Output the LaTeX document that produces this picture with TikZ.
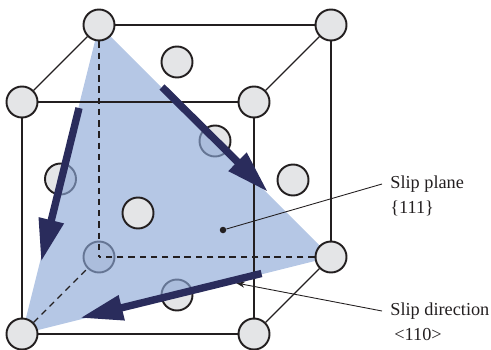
\documentclass[tikz,border=0pt]{standalone}
\usepackage{fontspec}
\setmainfont{Liberation Serif}
\usepackage{xcolor}
\usetikzlibrary{arrows.meta}

\definecolor{atomgrey}{HTML}{E4E5E7}
\definecolor{inkdark}{HTML}{231F20}
\definecolor{planeblue}{RGB}{139,167,214}
\definecolor{slipnavy}{HTML}{2A2C5C}

\begin{document}
\begin{tikzpicture}[
  atom/.style={circle, draw=inkdark, fill=atomgrey, line width=1.1pt,
               inner sep=0pt, minimum size=0.62cm},
  edge/.style={draw=inkdark, line width=0.7pt},
  hidden/.style={draw=inkdark, line width=0.7pt, dash pattern=on 3.6pt off 2.8pt},
  slip/.style={-{Triangle[length=8.6mm, width=4.8mm]}, draw=slipnavy, line width=4.2pt},
  lbl/.style={font=\fontsize{10.4}{14}\selectfont, text=inkdark, align=left,
              inner sep=0pt, anchor=west},
  lead/.style={draw=inkdark, line width=0.5pt},
]
\useasboundingbox (0,0) rectangle (9.82,6.98);

% --- Plane corners ---
\coordinate (apexT) at (1.98, 6.48);
\coordinate (apexR) at (6.62, 1.84);
\coordinate (apexL) at (0.44, 0.30);

% --- Atoms behind the plane ---
\node[atom] (BBL)   at (1.98, 1.84) {};
\node[atom] (back)  at (4.30, 4.16) {};
\node[atom] (left)  at (1.21, 3.40) {};
\node[atom] (under) at (3.54, 1.08) {};

% --- Slip plane ---
\fill[planeblue, opacity=0.64] (apexT) -- (apexR) -- (apexL) -- cycle;

% --- Atoms in front of the plane ---
\node[atom] (BTL)   at (apexT) {};
\node[atom] (BTR)   at (6.62, 6.48) {};
\node[atom] (FTL)   at (0.44, 4.94) {};
\node[atom] (FTR)   at (5.08, 4.94) {};
\node[atom] (BBR)   at (apexR) {};
\node[atom] (FBL)   at (apexL) {};
\node[atom] (FBR)   at (5.08, 0.30) {};
\node[atom] (top)   at (3.54, 5.74) {};
\node[atom] (right) at (5.86, 3.38) {};
\node[atom] (front) at (2.76, 2.72) {};

% --- Cube edges ---
\draw[edge] (BTL) -- (BTR);
\draw[edge] (BTL) -- (FTL);
\draw[edge] (BTR) -- (FTR);
\draw[edge] (BTR) -- (BBR);
\draw[edge] (FTL) -- (FTR);
\draw[edge] (FTL) -- (FBL);
\draw[edge] (FTR) -- (FBR);
\draw[edge] (FBL) -- (FBR);
\draw[edge] (BBR) -- (FBR);
\draw[hidden] (BTL) -- (BBL.center);
\draw[hidden] (BBR) -- (BBL.center);
\draw[hidden] (FBL) -- (BBL);

% --- Labels and leaders ---
\node[lbl] (planeLbl) at (7.80, 3.06) {Slip plane\\\{111\}};
\node[lbl] (dirLbl)   at (7.80, 0.76) {Slip direction};
\node[lbl] (dirIdx)   at (7.88, 0.28) {<110>};
\node[circle, fill=inkdark, inner sep=0pt, minimum size=0.13cm] (planeDot) at (4.46, 2.38) {};
\coordinate (planeEnd) at (7.64, 3.30);
\coordinate (dirEnd)   at (7.64, 0.76);
\coordinate (dirTip)   at (4.72, 1.32);
\draw[lead] (planeDot) -- (planeEnd);
\draw[lead, -{Stealth[length=5pt, width=3.5pt]}] (dirEnd) -- (dirTip);

% --- Slip arrows ---
\coordinate (arrAs) at (3.24, 5.24);
\coordinate (arrAe) at (5.36, 3.14);
\coordinate (arrBs) at (1.58, 4.82);
\coordinate (arrBe) at (0.82, 1.74);
\coordinate (arrCs) at (5.23, 1.51);
\coordinate (arrCe) at (1.60, 0.62);
\draw[slip] (arrAs) -- (arrAe);
\draw[slip] (arrBs) -- (arrBe);
\draw[slip] (arrCs) -- (arrCe);
\end{tikzpicture}
\end{document}
